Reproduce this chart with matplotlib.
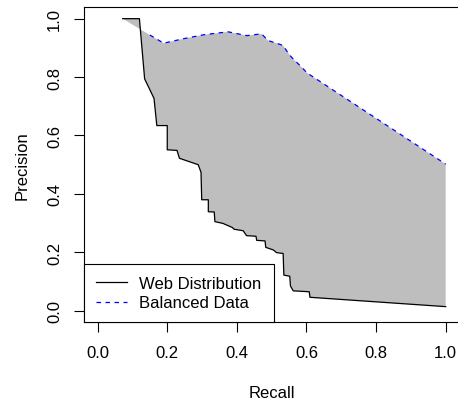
import numpy as np
import matplotlib
matplotlib.use("Agg")
import matplotlib.pyplot as plt

# precision/recall points
web_recall = [0.072, 0.120, 0.135, 0.162, 0.170, 0.200, 0.200, 0.228, 0.235, 0.289,
              0.297, 0.299, 0.318, 0.318, 0.335, 0.337, 0.360, 0.387, 0.392, 0.418,
              0.428, 0.455, 0.457, 0.481, 0.483, 0.505, 0.514, 0.533, 0.535, 0.552,
              0.554, 0.562, 0.608, 0.610, 1.000]
web_precision = [1.000, 1.000, 0.794, 0.727, 0.634, 0.634, 0.551, 0.549, 0.522, 0.500,
                 0.474, 0.380, 0.380, 0.339, 0.338, 0.305, 0.299, 0.285, 0.279, 0.274,
                 0.257, 0.255, 0.241, 0.239, 0.217, 0.208, 0.199, 0.196, 0.122, 0.118,
                 0.085, 0.068, 0.065, 0.046, 0.014]

bal_recall = [0.150, 0.190, 0.245, 0.305, 0.375, 0.428, 0.471, 0.490, 0.519, 0.533,
              0.543, 0.557, 0.586, 0.602, 1.000]
bal_precision = [0.944, 0.916, 0.931, 0.945, 0.955, 0.942, 0.948, 0.925, 0.914, 0.908,
                 0.890, 0.868, 0.834, 0.814, 0.502]

labels = ["Web Distribution", "Balanced Data"]
ticks = [0.0, 0.2, 0.4, 0.6, 0.8, 1.0]

plt.rcParams["font.family"] = ["Liberation Sans", "DejaVu Sans"]
plt.rcParams["font.size"] = 12

fig = plt.figure(figsize=(4.58, 4.02), dpi=100)
ax = fig.add_axes([0.1828, 0.1955, 0.8207, 0.7846])

# shaded area between the two curves
poly_x = np.concatenate([web_recall, bal_recall[::-1]])
poly_y = np.concatenate([web_precision, bal_precision[::-1]])
ax.fill(poly_x, poly_y, color="#BEBEBE", linewidth=0)

ax.plot(web_recall, web_precision, color="black", linewidth=0.9, label=labels[0])
ax.plot(bal_recall, bal_precision, color="#0000FF", linewidth=0.9,
        dashes=(3.6, 3.6), label=labels[1])

ax.set_xlim(-0.04, 1.04)
ax.set_ylim(-0.04, 1.04)
ax.set_xticks(ticks)
ax.set_yticks(ticks)
ax.set_xticklabels([f"{t:.1f}" for t in ticks])
ax.set_yticklabels([f"{t:.1f}" for t in ticks], rotation=90, va="center")
ax.tick_params(direction="out", length=7.2, width=0.8, labelsize=12)
ax.tick_params(axis="x", pad=9)
ax.tick_params(axis="y", pad=8.5)

for s in ax.spines.values():
    s.set_linewidth(0.8)

ax.set_xlabel("Recall", va="center")
ax.set_ylabel("Precision", va="center")
ax.xaxis.set_label_coords(0.5, -0.222)
ax.yaxis.set_label_coords(-0.165, 0.5)

leg = ax.legend(loc="lower left", borderaxespad=0, fancybox=False, framealpha=1,
                edgecolor="black", borderpad=0.72, handlelength=1.86,
                handletextpad=0.76, labelspacing=0.29, fontsize=12)
leg.get_frame().set_linewidth(0.8)

fig.savefig("out.png", dpi=100)
